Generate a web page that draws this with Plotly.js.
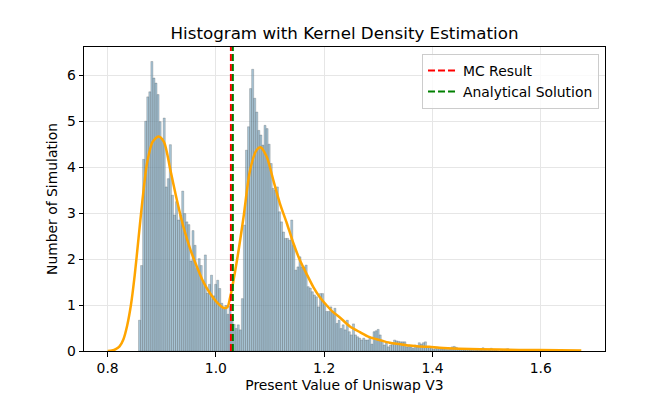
<!DOCTYPE html>
<html>
<head>
<meta charset="utf-8">
<script src="https://cdn.plot.ly/plotly-3.0.1.min.js"></script>
<style>
  html, body { margin: 0; padding: 0; background: #fff; }
  #chart { width: 672px; height: 394px; }
</style>
</head>
<body>
<div id="chart"></div>
<script>
// histogram bins (density), left to right
const binStart = 0.857;
const binWidth = 0.0038;

const heightsPeak1 = [0.67, 1.86, 4.17, 5.0, 5.53, 5.64, 6.3, 5.94, 5.83, 5.58, 4.99, 4.62, 5.07, 3.57, 3.75, 4.49, 3.39, 2.96, 3.25, 2.85, 2.96, 3.48, 2.99];
const heightsValley = [2.81, 2.75, 1.96, 2.62, 2.30, 1.80, 2.01, 1.86, 1.51, 2.09, 1.26, 1.45, 1.65, 1.20, 1.45, 1.54, 1.36, 1.04, 0.93, 0.99, 0.80, 0.97, 0.75];
const heightsPeak2 = [0.58, 0.49, 0.57, 0.46, 1.14, 2.74, 4.37, 4.88, 5.71, 6.13, 5.5, 5.2, 4.8, 4.7, 4.48, 4.91, 4.84, 4.5, 4.08, 3.54, 3.5, 3.57, 3.03, 2.81, 2.59,
  2.45, 2.45, 2.41, 2.85, 2.30, 1.76, 1.83, 2.05, 1.83, 1.83, 1.87, 1.40, 1.37, 1.29, 1.22, 1.18, 0.96, 1.25, 1.25, 1.04, 0.86, 0.86, 0.96, 0.86];
const heightsTail = [0.93, 0.60, 0.67, 0.49, 0.57, 0.46, 0.67, 0.42, 0.35, 0.59, 0.35, 0.31, 0.28, 0.24, 0.28, 0.24, 0.24, 0.28, 0.15, 0.42, 0.44, 0.47, 0.35, 0.24, 0.13,
  0.17, 0.09, 0.13, 0.17, 0.24, 0.22, 0.21, 0.2, 0.2, 0.2, 0.09, 0.13, 0.09, 0.06, 0.13, 0.09, 0.18, 0.15, 0.18, 0.2, 0.09, 0.08, 0.09, 0.04, 0.06];
const heightsFarTail = [0.05, 0.07, 0.04, 0.05, 0.06, 0.03, 0.05, 0.09, 0.1, 0.08, 0.04, 0.03, 0.05, 0.02, 0.04, 0.03, 0.02, 0.03, 0.01, 0.02, 0.03, 0.02, 0.07, 0.02, 0.01,
  0.02, 0.06, 0.01, 0.02, 0.01, 0.0, 0.02, 0.01, 0.04, 0.05, 0.01, 0.0, 0.01, 0.02, 0.0, 0.01, 0.0, 0.01, 0.01, 0.0, 0.0, 0.01, 0.0, 0.0, 0.01, 0.0, 0.0, 0.0, 0.01, 0.0, 0.01];

// kde curve, points
const kdeX = [0.800, 0.808, 0.815, 0.822, 0.829, 0.836, 0.843, 0.850, 0.857, 0.864, 0.873, 0.883, 0.894, 0.904, 0.916, 0.928, 0.940, 0.953, 0.965, 0.977, 0.990, 1.002, 1.014,
  1.021, 1.026, 1.039, 1.051, 1.063, 1.075, 1.083, 1.094, 1.106, 1.118, 1.131, 1.143, 1.155, 1.167, 1.180, 1.192, 1.204, 1.216, 1.229, 1.247, 1.266, 1.284,
  1.302, 1.321, 1.339, 1.358, 1.376, 1.394, 1.413, 1.450, 1.523, 1.597, 1.675];
const kdeY = [0.0, 0.01, 0.04, 0.1, 0.25, 0.55, 1.0, 1.65, 2.45, 3.25, 4.1, 4.55, 4.67, 4.55, 3.93, 3.28, 2.7, 2.2, 1.83, 1.5, 1.24, 1.06, 0.94,
  0.95, 1.15, 1.98, 2.91, 3.93, 4.37, 4.43, 4.22, 3.72, 3.22, 2.78, 2.35, 1.98, 1.69, 1.39, 1.17, 1.0, 0.85, 0.73, 0.54, 0.41, 0.30,
  0.24, 0.18, 0.15, 0.12, 0.10, 0.09, 0.07, 0.05, 0.03, 0.02, 0.01];

const mcResult = 1.0277;
const analyticalSolution = 1.0313;

const xTicks = [0.8, 1.0, 1.2, 1.4, 1.6];
const yTicks = [0, 1, 2, 3, 4, 5, 6];
const yTop = 6.615;

const heights = [...heightsPeak1, ...heightsValley, ...heightsPeak2, ...heightsTail, ...heightsFarTail];
const centers = heights.map((_, i) => binStart + (i + 0.5) * binWidth);

const font = 'DejaVu Sans, sans-serif';

const data = [
  {
    x: centers,
    y: heights,
    type: 'bar',
    width: binWidth,
    marker: {
      color: 'rgba(120,165,190,0.65)',
      line: { color: 'rgba(60,60,60,0.45)', width: 0.5 }
    },
    showlegend: false,
    hoverinfo: 'skip'
  },
  {
    x: kdeX,
    y: kdeY,
    type: 'scatter',
    mode: 'lines',
    line: { color: '#ffa500', width: 2.5, shape: 'spline', smoothing: 0.8 },
    showlegend: false
  },
  {
    x: [mcResult, mcResult],
    y: [0, yTop],
    type: 'scatter',
    mode: 'lines',
    name: 'MC Result',
    line: { color: '#ff0000', width: 2, dash: '7px,3px' }
  },
  {
    x: [analyticalSolution, analyticalSolution],
    y: [0, yTop],
    type: 'scatter',
    mode: 'lines',
    name: 'Analytical Solution',
    line: { color: '#008000', width: 2, dash: '7px,3px' }
  }
];

const layout = {
  width: 672,
  height: 394,
  margin: { l: 84, r: 67, t: 47, b: 43 },
  paper_bgcolor: '#ffffff',
  plot_bgcolor: '#ffffff',
  font: { family: font, size: 13.9, color: '#000' },
  bargap: 0,
  title: {
    text: 'Histogram with Kernel Density Estimation',
    font: { family: font, size: 16.7, color: '#000' },
    x: 0.5127, xanchor: 'center',
    y: 0.915, yanchor: 'middle'
  },
  xaxis: {
    range: [0.7563, 1.7188],
    tickvals: xTicks,
    ticktext: xTicks.map(v => v.toFixed(1)),
    ticks: 'outside', ticklen: 4.5, tickcolor: '#000',
    showline: true, mirror: true, linecolor: '#000', linewidth: 1,
    showgrid: true, gridcolor: '#e6e6e6', gridwidth: 1,
    zeroline: false,
    title: { text: 'Present Value of Uniswap V3', font: { family: font, size: 13.9 }, standoff: 5 }
  },
  yaxis: {
    range: [0, yTop],
    tickvals: yTicks,
    ticks: 'outside', ticklen: 4.5, tickcolor: '#000',
    showline: true, mirror: true, linecolor: '#000', linewidth: 1,
    showgrid: true, gridcolor: '#e6e6e6', gridwidth: 1,
    zeroline: false,
    title: { text: 'Number of Simulation', font: { family: font, size: 13.9 }, standoff: 6 }
  },
  legend: {
    x: 0.9885, xanchor: 'right',
    y: 0.977, yanchor: 'top',
    bgcolor: 'rgba(255,255,255,0.8)',
    bordercolor: '#cccccc', borderwidth: 1,
    font: { family: font, size: 13.9 }
  }
};

Plotly.newPlot('chart', data, layout, { displayModeBar: false, staticPlot: true });
</script>
</body>
</html>
